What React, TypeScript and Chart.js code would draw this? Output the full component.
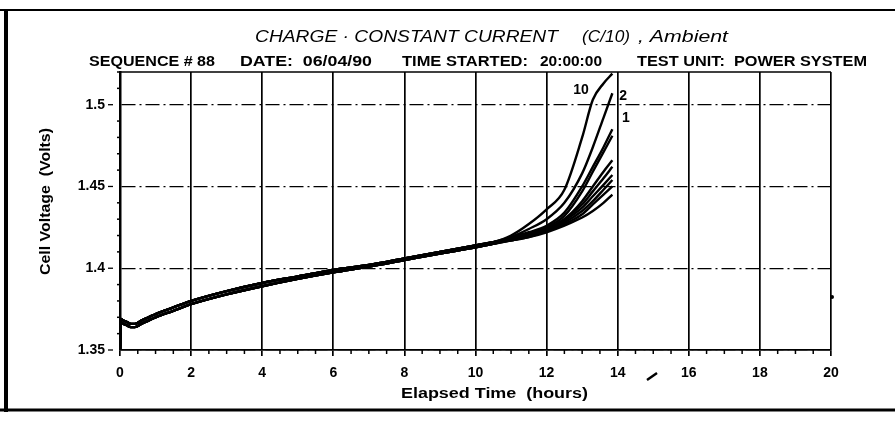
import React, { useEffect, useRef } from "react";
import { Chart, registerables } from "chart.js";

Chart.register(...registerables);

// ---- data ----
const baseTimes = [0, 0.02, 0.1, 0.2, 0.3, 0.42, 0.6, 0.8, 1, 1.5, 2, 3, 4, 5, 6, 7, 8, 9, 10, 10.5];
const baseUpper = [1.35, 1.369, 1.368, 1.367, 1.366, 1.366, 1.368, 1.37, 1.372, 1.376, 1.38, 1.386, 1.391, 1.395, 1.399, 1.402, 1.406, 1.41, 1.414, 1.416];
const baseLower = [1.35, 1.367, 1.366, 1.365, 1.364, 1.364, 1.366, 1.368, 1.37, 1.374, 1.378, 1.384, 1.389, 1.3935, 1.3975, 1.401, 1.405, 1.409, 1.4128, 1.415];

const tailTimes = [11, 11.5, 12, 12.5, 13, 13.3, 13.6, 13.85];
const cell10 = [1.42, 1.427, 1.436, 1.448, 1.48, 1.503, 1.513, 1.519];
const cell2 = [1.419, 1.424, 1.43, 1.44, 1.458, 1.474, 1.492, 1.507];
const cell1 = [1.419, 1.422, 1.426, 1.434, 1.45, 1.462, 1.474, 1.485];
const cell4 = [1.418, 1.421, 1.425, 1.432, 1.447, 1.459, 1.471, 1.481];
const cell5 = [1.418, 1.421, 1.424, 1.43, 1.441, 1.45, 1.459, 1.466];
const cell6 = [1.418, 1.42, 1.424, 1.43, 1.439, 1.447, 1.455, 1.462];
const cell7 = [1.417, 1.42, 1.423, 1.429, 1.437, 1.444, 1.451, 1.457];
const cell8 = [1.417, 1.42, 1.423, 1.428, 1.435, 1.441, 1.448, 1.454];
const cell9 = [1.417, 1.419, 1.423, 1.427, 1.433, 1.439, 1.445, 1.45];
const cell3 = [1.417, 1.419, 1.422, 1.426, 1.431, 1.435, 1.44, 1.445];

const cellNames = ["10", "2", "1", "4", "5", "6", "7", "8", "9", "3"];
const cellTails = [cell10, cell2, cell1, cell4, cell5, cell6, cell7, cell8, cell9, cell3];

const xTicks = [0, 2, 4, 6, 8, 10, 12, 14, 16, 18, 20];
const yTicks = [1.35, 1.4, 1.45, 1.5];
const xMin = 0;
const xMax = 20;
const yMin = 1.35;
const yMax = 1.52;
const xMinorStep = 0.5;
const yMinorStep = 0.01;

const curveLabels = [
  { text: "10", x: 12.97, y: 1.509 },
  { text: "2", x: 14.15, y: 1.505 },
  { text: "1", x: 14.23, y: 1.492 },
];

const titleMain = "CHARGE · CONSTANT CURRENT";
const titleRate = "(C/10)";
const titleEnv = ", Ambient";
const subSequence = "SEQUENCE # 88";
const subDate = "DATE:  06/04/90";
const subTimeLabel = "TIME STARTED:";
const subTimeValue = "20:00:00";
const subUnit = "TEST UNIT:  POWER SYSTEM";
const xTitle = "Elapsed Time  (hours)";
const yTitle = "Cell Voltage  (Volts)";

const FONT = "'Liberation Sans', Arial, sans-serif";

function fitText(ctx: CanvasRenderingContext2D, text: string, x1: number, x2: number, baseline: number) {
  const w = ctx.measureText(text).width;
  const sx = (x2 - x1) / w;
  ctx.save();
  ctx.translate(x1, baseline);
  ctx.scale(sx, 1);
  ctx.textAlign = "left";
  ctx.fillText(text, 0, 0);
  ctx.restore();
}

function seg(ctx: CanvasRenderingContext2D, x1: number, y1: number, x2: number, y2: number) {
  ctx.beginPath();
  ctx.moveTo(x1, y1);
  ctx.lineTo(x2, y2);
  ctx.stroke();
}

const decorPlugin = {
  id: "decor",
  afterDraw(chart: any) {
    const { ctx, chartArea: a, scales } = chart;
    const x = scales.x;
    const y = scales.y;
    ctx.save();
    ctx.strokeStyle = "#000";
    ctx.fillStyle = "#000";
    ctx.setLineDash([]);

    // top border of plot
    ctx.lineWidth = 1.6;
    seg(ctx, a.left, a.top, a.right, a.top);

    // x minor ticks
    ctx.lineWidth = 1.5;
    const nx = Math.round((xMax - xMin) / xMinorStep);
    for (let k = 1; k < nx; k++) {
      const v = xMin + k * xMinorStep;
      if (k % 4 === 0) continue;
      const px = x.getPixelForValue(v);
      seg(ctx, px, a.bottom, px, a.bottom + 4);
    }
    // y minor ticks
    const ny = Math.round((yMax - yMin) / yMinorStep);
    for (let k = 1; k <= ny; k++) {
      if (k % 5 === 0) continue;
      const py = y.getPixelForValue(yMin + k * yMinorStep);
      seg(ctx, a.left - 3, py, a.left, py);
    }
    // y major dashes
    ctx.lineWidth = 1.3;
    for (const v of yTicks) {
      const py = y.getPixelForValue(v);
      seg(ctx, a.left - 12, py, a.left - 7, py);
    }

    // outer frame
    ctx.lineWidth = 4;
    seg(ctx, 6, 9, 6, 412);
    ctx.lineWidth = 2;
    seg(ctx, 0, 10, 895, 10);
    ctx.lineWidth = 3;
    seg(ctx, 0, 410, 895, 410);

    // scan specks
    ctx.lineWidth = 2.5;
    seg(ctx, 647, 380, 657, 373);
    ctx.beginPath();
    ctx.arc(a.right + 1, 297, 2, 0, Math.PI * 2);
    ctx.fill();

    // title
    ctx.textBaseline = "alphabetic";
    ctx.font = `italic 17px ${FONT}`;
    fitText(ctx, titleMain, 255, 558, 42);
    fitText(ctx, titleRate, 582, 630, 42);
    fitText(ctx, titleEnv, 638, 728, 42);

    // subtitle
    ctx.font = `bold 14px ${FONT}`;
    fitText(ctx, subSequence, 89, 215, 66);
    fitText(ctx, subDate, 240, 372, 66);
    fitText(ctx, subTimeLabel, 402, 528, 66);
    fitText(ctx, subTimeValue, 540, 602, 66);
    fitText(ctx, subUnit, 637, 867, 66);

    // axis titles
    ctx.font = `bold 14px ${FONT}`;
    fitText(ctx, xTitle, 401, 588, 398);
    ctx.save();
    ctx.translate(50, 202);
    ctx.rotate(-Math.PI / 2);
    fitText(ctx, yTitle, -73, 74, 0);
    ctx.restore();

    // curve labels
    ctx.font = `bold 14px ${FONT}`;
    ctx.textAlign = "center";
    ctx.textBaseline = "middle";
    for (const l of curveLabels) {
      ctx.fillText(l.text, x.getPixelForValue(l.x), y.getPixelForValue(l.y));
    }
    ctx.restore();
  },
};

export default function App() {
  const ref = useRef<HTMLCanvasElement | null>(null);
  useEffect(() => {
    document.body.style.margin = "0";
    const canvas = ref.current;
    if (!canvas) return;
    const datasets = cellTails.map((tail, i) => {
      const base = i % 2 === 0 ? baseUpper : baseLower;
      const pts = baseTimes
        .map((t, k) => ({ x: t, y: base[k] }))
        .concat(tailTimes.map((t, k) => ({ x: t, y: tail[k] })));
      return {
        label: "Cell " + cellNames[i],
        data: pts,
        borderColor: "#000",
        backgroundColor: "#000",
        borderWidth: 2.4,
        pointRadius: 0,
        fill: false,
        cubicInterpolationMode: "monotone" as const,
      };
    });
    const chart = new Chart(canvas, {
      type: "line",
      data: { datasets },
      options: {
        animation: false,
        responsive: false,
        devicePixelRatio: 1,
        parsing: false,
        layout: { padding: { left: 0, right: 64, top: 72, bottom: 0 } },
        plugins: { legend: { display: false }, tooltip: { enabled: false }, title: { display: false } },
        scales: {
          x: {
            type: "linear",
            min: xMin,
            max: xMax,
            afterBuildTicks: (s: any) => {
              s.ticks = xTicks.map((v) => ({ value: v }));
            },
            afterFit: (s: any) => {
              s.height = 72;
            },
            ticks: {
              color: "#000",
              font: { family: FONT, size: 14, weight: "bold" },
              padding: 9,
              maxRotation: 0,
              callback: (v: any) => String(v),
            },
            grid: {
              color: "#000",
              lineWidth: 1.7,
              drawTicks: true,
              tickLength: 6,
              tickColor: "#000",
            },
            border: { display: true, color: "#000", width: 1.8 },
          },
          y: {
            type: "linear",
            min: yMin,
            max: yMax,
            afterBuildTicks: (s: any) => {
              s.ticks = yTicks.map((v) => ({ value: v }));
            },
            afterFit: (s: any) => {
              s.width = 120;
            },
            ticks: {
              color: "#000",
              font: { family: FONT, size: 14, weight: "bold" },
              padding: 15,
              callback: (v: any) => String(v),
            },
            grid: {
              color: "#000",
              lineWidth: 1.2,
              drawTicks: false,
            },
            border: { display: true, color: "#000", width: 2.5, dash: [14, 4, 2, 4] },
          },
        },
      },
      plugins: [decorPlugin],
    });
    return () => chart.destroy();
  }, []);
  return (
    <div style={{ width: 895, height: 422 }}>
      <canvas ref={ref} width={895} height={422} style={{ display: "block" }} />
    </div>
  );
}
